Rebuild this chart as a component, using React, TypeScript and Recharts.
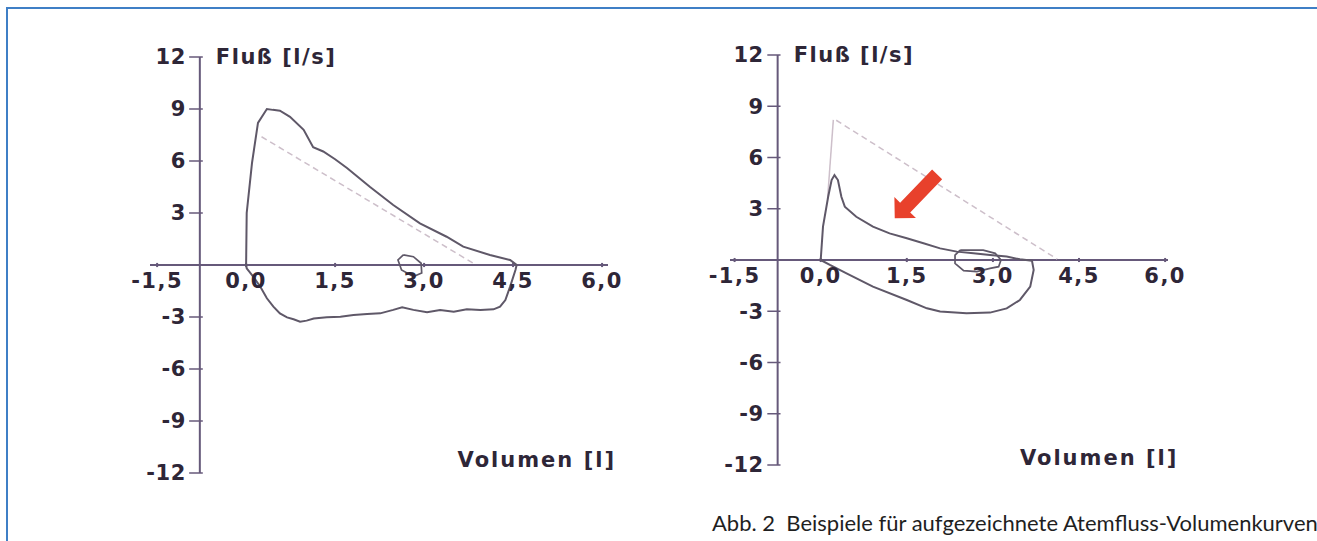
import {
  ComposedChart,
  XAxis,
  YAxis,
  Line,
  Scatter,
  ReferenceLine,
  ReferenceDot,
} from 'recharts';

type Pt = [number, number]; // [volume l, flow l/s]

const X_TICKS = [-1.5, 0, 1.5, 3, 4.5, 6];
const Y_TICKS = [12, 9, 6, 3, -3, -6, -9, -12];

// left panel: normal loop
const LEFT_LOOP: Pt[] = [
  [0, 0], [0.01, 3.0], [0.1, 5.9], [0.2, 8.2], [0.35, 9.0], [0.45, 8.95], [0.57, 8.9],
  [0.74, 8.55], [0.97, 7.8], [1.13, 6.8], [1.3, 6.55], [1.5, 6.1], [1.7, 5.6],
  [2.09, 4.5], [2.48, 3.46], [2.93, 2.4], [3.38, 1.63], [3.66, 1.06], [4.11, 0.58],
  [4.45, 0.29], [4.56, 0],
  [4.54, -0.29], [4.45, -1.25], [4.37, -2.02], [4.28, -2.4], [4.17, -2.56], [3.95, -2.59],
  [3.72, -2.56], [3.5, -2.69], [3.27, -2.59], [3.05, -2.73], [2.82, -2.59], [2.63, -2.44],
  [2.48, -2.59], [2.26, -2.79], [2.04, -2.82], [1.81, -2.88], [1.59, -2.98], [1.36, -3.02],
  [1.14, -3.09], [1.02, -3.21], [0.91, -3.27], [0.8, -3.13], [0.69, -3.02], [0.57, -2.79],
  [0.46, -2.4], [0.35, -1.92], [0.24, -1.25], [0.12, -0.67], [0.01, -0.19], [0, 0],
];
const LEFT_SMALL: Pt[] = [
  [2.65, 0.58], [2.82, 0.48], [2.95, 0.1], [2.96, -0.46], [2.82, -0.67], [2.62, -0.29],
  [2.56, 0.29], [2.65, 0.58],
];
const LEFT_PRED: Pt[] = [[0.26, 7.4], [3.83, 0.1]];

// right panel: obstructive loop
const RIGHT_LOOP: Pt[] = [
  [0, 0], [0.04, 1.95], [0.13, 3.7], [0.19, 4.68], [0.24, 4.97], [0.3, 4.68], [0.36, 3.7],
  [0.42, 3.12], [0.62, 2.53], [0.91, 1.95], [1.2, 1.56], [1.5, 1.27], [1.79, 0.98],
  [2.08, 0.68], [2.37, 0.49], [2.66, 0.39], [2.95, 0.29], [3.24, 0.2], [3.47, 0.04],
  [3.68, -0.04], [3.71, -0.58], [3.65, -1.56], [3.47, -2.34], [3.24, -2.83], [2.95, -3.08],
  [2.54, -3.12], [2.08, -3.02], [1.85, -2.83], [1.5, -2.34], [0.91, -1.56], [0.45, -0.78],
  [0.16, -0.29], [0, 0],
];
const RIGHT_SMALL: Pt[] = [
  [2.43, 0.58], [2.83, 0.58], [3.04, 0.39], [3.14, 0], [3.1, -0.39], [2.95, -0.49],
  [2.72, -0.68], [2.49, -0.62], [2.34, -0.2], [2.34, 0.29], [2.43, 0.58],
];
const RIGHT_PRED_RISE: Pt[] = [[0.12, 3.6], [0.22, 8.2]];
const RIGHT_PRED: Pt[] = [[0.27, 8.18], [4.12, 0.05]];
const RIGHT_ARROW_TIP: Pt[] = [[1.29, 2.44]];

const AXIS = '#66597a';
const CURVE = '#5f5868';
const PRED = '#cdbfca';
const TEXT = '#2e2637';
const FONT = '"DejaVu Sans", sans-serif';
const FRAME = '#3f7fc6';

const toRows = (pts: Pt[]) => pts.map(([v, f]) => ({ v, f }));
const fmtX = (v: number) => v.toFixed(1).replace('.', ',');

const labelStyle = {
  fill: TEXT,
  fontSize: 21,
  fontWeight: 'bold',
  fontFamily: FONT,
  letterSpacing: 1.5,
};

function ArrowShape(props: any) {
  const { cx, cy } = props;
  return (
    <polygon
      transform={`translate(${cx},${cy}) rotate(134)`}
      points="0,0 -15,-15 -15,-7 -61,-7 -61,7 -15,7 -15,15"
      fill="#e8412c"
    />
  );
}

interface PanelProps {
  left: number;
  width: number;
  margin: { top: number; right: number; bottom: number; left: number };
  xDomain: [number, number];
  yAxisAt: number;
  volLabel: Pt;
  loop: Pt[];
  small: Pt[];
  pred: Pt[];
  predRise?: Pt[];
  arrow?: Pt[];
}

function LoopPanel(p: PanelProps) {
  const [x0, x1] = p.xDomain;
  return (
    <div style={{ position: 'absolute', left: p.left, top: 0 }}>
      <ComposedChart width={p.width} height={541} margin={p.margin}>
        <XAxis type="number" dataKey="v" domain={p.xDomain} allowDataOverflow hide />
        <YAxis type="number" dataKey="f" domain={[-12, 12]} allowDataOverflow hide />

        <ReferenceLine
          segment={[{ x: x0, y: 0 }, { x: x1, y: 0 }]}
          stroke={AXIS}
          strokeWidth={2}
        />
        <ReferenceLine
          segment={[{ x: p.yAxisAt, y: -12 }, { x: p.yAxisAt, y: 12 }]}
          stroke={AXIS}
          strokeWidth={2}
        />
        {X_TICKS.map((t) => (
          <ReferenceLine
            key={`xt${t}`}
            segment={[{ x: t, y: -0.12 }, { x: t, y: 0.12 }]}
            stroke={AXIS}
            strokeWidth={2}
          />
        ))}
        {Y_TICKS.map((t) => (
          <ReferenceLine
            key={`yt${t}`}
            segment={[{ x: p.yAxisAt - 0.18, y: t }, { x: p.yAxisAt + 0.05, y: t }]}
            stroke={AXIS}
            strokeWidth={1.5}
          />
        ))}
        {X_TICKS.map((t) => (
          <ReferenceDot
            key={`xl${t}`}
            x={t}
            y={0}
            r={0.01}
            fill="none"
            stroke="none"
            label={{ value: fmtX(t), position: 'bottom', offset: 8, ...labelStyle }}
          />
        ))}
        {Y_TICKS.map((t) => (
          <ReferenceDot
            key={`yl${t}`}
            x={p.yAxisAt}
            y={t}
            r={0.01}
            fill="none"
            stroke="none"
            label={{ value: String(t), position: 'left', offset: 14, ...labelStyle, letterSpacing: 0.5 }}
          />
        ))}
        <ReferenceDot
          x={p.yAxisAt}
          y={12}
          r={0.01}
          fill="none"
          stroke="none"
          label={{ value: 'Fluß [l/s]', position: 'right', offset: 16, ...labelStyle }}
        />
        <ReferenceDot
          x={p.volLabel[0]}
          y={p.volLabel[1]}
          r={0.01}
          fill="none"
          stroke="none"
          label={{ value: 'Volumen [l]', position: 'center', ...labelStyle, letterSpacing: 2 }}
        />

        <Line
          data={toRows(p.pred)}
          dataKey="f"
          stroke={PRED}
          strokeWidth={1.5}
          strokeDasharray="6 4"
          dot={false}
          isAnimationActive={false}
        />
        {p.predRise && (
          <Line
            data={toRows(p.predRise)}
            dataKey="f"
            stroke={PRED}
            strokeWidth={1.5}
            dot={false}
            isAnimationActive={false}
          />
        )}
        <Line
          data={toRows(p.loop)}
          dataKey="f"
          stroke={CURVE}
          strokeWidth={2}
          dot={false}
          isAnimationActive={false}
        />
        <Line
          data={toRows(p.small)}
          dataKey="f"
          stroke={CURVE}
          strokeWidth={1.7}
          dot={false}
          isAnimationActive={false}
        />
        {p.arrow && (
          <Scatter
            data={toRows(p.arrow)}
            dataKey="f"
            shape={ArrowShape}
            isAnimationActive={false}
          />
        )}
      </ComposedChart>
    </div>
  );
}

export default function App() {
  return (
    <div
      style={{
        position: 'fixed',
        left: 0,
        top: 0,
        width: 1317,
        height: 541,
        background: '#fff',
        overflow: 'hidden',
      }}
    >
      <style>{'html,body{margin:0;overflow:hidden;}'}</style>
      <div style={{ position: 'absolute', left: 6, top: 7, width: 1311, height: 2, background: FRAME }} />
      <div style={{ position: 'absolute', left: 6, top: 7, width: 2, height: 534, background: FRAME }} />
      <LoopPanel
        left={0}
        width={660}
        margin={{ top: 57, left: 150, right: 52, bottom: 68 }}
        xDomain={[-1.62, 6.1]}
        yAxisAt={-0.78}
        volLabel={[4.9, -11.24]}
        loop={LEFT_LOOP}
        small={LEFT_SMALL}
        pred={LEFT_PRED}
      />
      <LoopPanel
        left={660}
        width={600}
        margin={{ top: 55, left: 70, right: 92, bottom: 76 }}
        xDomain={[-1.58, 6.05]}
        yAxisAt={-0.75}
        volLabel={[4.85, -11.58]}
        loop={RIGHT_LOOP}
        small={RIGHT_SMALL}
        pred={RIGHT_PRED}
        predRise={RIGHT_PRED_RISE}
        arrow={RIGHT_ARROW_TIP}
      />
      <div
        style={{
          position: 'absolute',
          left: 712,
          top: 510,
          fontFamily: 'Lato, sans-serif',
          fontSize: 22,
          lineHeight: '26px',
          color: '#1f1f1f',
          whiteSpace: 'nowrap',
        }}
      >
        Abb. 2&nbsp;&nbsp;Beispiele für aufgezeichnete Atemfluss-Volumenkurven
      </div>
    </div>
  );
}
